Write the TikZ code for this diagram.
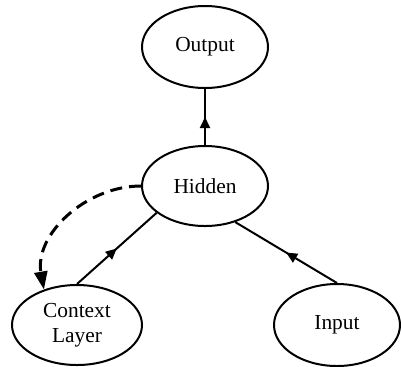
\documentclass[tikz,border=0pt]{standalone}
\usepackage{fontspec}
\setmainfont{Liberation Serif}
\usetikzlibrary{shapes.geometric,arrows.meta,decorations.markings}
\begin{document}
\begin{tikzpicture}[x=0.5pt,y=-0.5pt,
  unit/.style={ellipse,draw,line width=1pt,inner sep=0pt,minimum width=63pt,minimum height=41pt,font=\fontsize{10.7}{12.5}\selectfont,align=center},
  midarrow/.style={line width=1pt,postaction={decorate},decoration={markings,mark=at position 0.5 with {\arrow{Triangle[length=5.5pt,width=5pt]}}}},
  recur/.style={line width=1.5pt,dash pattern=on 6pt off 3.5pt,-{Triangle[length=9pt,width=6.5pt]}}]
\useasboundingbox (0,0) rectangle (401,366);
\node[unit] (out) at (205,47) {Output};
\node[unit,minimum height=40pt] (hid) at (205,186) {Hidden};
\node[unit,minimum width=65pt,minimum height=40pt] (ctx) at (77,325) {Context\\Layer};
\node[unit] (inp) at (337,325) {Input};
\draw[midarrow] (hid.north) -- (out.south);
\draw[midarrow] (ctx.north) -- (hid.209);
\draw[midarrow] (inp.north) -- (hid.310);
\draw[recur] (hid.west) to[out=180,in=100,looseness=1] (ctx.133);
\end{tikzpicture}
\end{document}
